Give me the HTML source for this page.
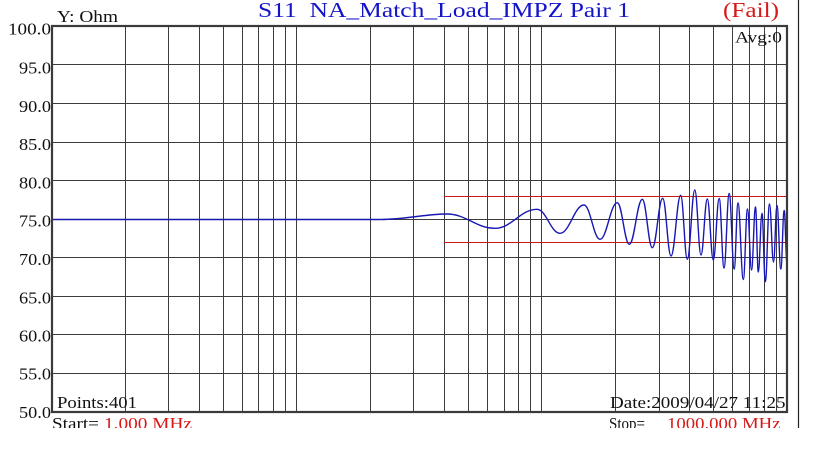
<!DOCTYPE html>
<html><head><meta charset="utf-8"><style>
html,body{margin:0;padding:0;background:#fff;width:815px;height:466px;overflow:hidden}
svg{display:block}
text{font-family:"Liberation Serif","DejaVu Serif",serif}
</style></head><body>
<svg width="815" height="466" viewBox="0 0 815 466" xmlns="http://www.w3.org/2000/svg">
<rect width="815" height="466" fill="#fff"/>
<!-- horizontal grid -->
<g stroke="#3c3c3c" stroke-width="1">
<line x1="52" y1="64.5" x2="787" y2="64.5"/>
<line x1="52" y1="103.5" x2="787" y2="103.5"/>
<line x1="52" y1="142.5" x2="787" y2="142.5"/>
<line x1="52" y1="180.5" x2="787" y2="180.5"/>
<line x1="52" y1="219.5" x2="787" y2="219.5"/>
<line x1="52" y1="257.5" x2="787" y2="257.5"/>
<line x1="52" y1="296.5" x2="787" y2="296.5"/>
<line x1="52" y1="334.5" x2="787" y2="334.5"/>
<line x1="52" y1="373.5" x2="787" y2="373.5"/>
</g>
<!-- vertical grid -->
<g stroke="#3c3c3c" stroke-width="1">
<line x1="125.5" y1="26" x2="125.5" y2="412"/>
<line x1="168.5" y1="26" x2="168.5" y2="412"/>
<line x1="199.5" y1="26" x2="199.5" y2="412"/>
<line x1="223.5" y1="26" x2="223.5" y2="412"/>
<line x1="242.5" y1="26" x2="242.5" y2="412"/>
<line x1="258.5" y1="26" x2="258.5" y2="412"/>
<line x1="273.5" y1="26" x2="273.5" y2="412"/>
<line x1="285.5" y1="26" x2="285.5" y2="412"/>
<line x1="296.5" y1="26" x2="296.5" y2="412"/>
<line x1="370.5" y1="26" x2="370.5" y2="412"/>
<line x1="413.5" y1="26" x2="413.5" y2="412"/>
<line x1="444.5" y1="26" x2="444.5" y2="412"/>
<line x1="468.5" y1="26" x2="468.5" y2="412"/>
<line x1="487.5" y1="26" x2="487.5" y2="412"/>
<line x1="504.5" y1="26" x2="504.5" y2="412"/>
<line x1="518.5" y1="26" x2="518.5" y2="412"/>
<line x1="530.5" y1="26" x2="530.5" y2="412"/>
<line x1="541.5" y1="26" x2="541.5" y2="412"/>
<line x1="615.5" y1="26" x2="615.5" y2="412"/>
<line x1="659.5" y1="26" x2="659.5" y2="412"/>
<line x1="689.5" y1="26" x2="689.5" y2="412"/>
<line x1="713.5" y1="26" x2="713.5" y2="412"/>
<line x1="732.5" y1="26" x2="732.5" y2="412"/>
<line x1="749.5" y1="26" x2="749.5" y2="412"/>
<line x1="764.5" y1="26" x2="764.5" y2="412"/>
<line x1="776.5" y1="26" x2="776.5" y2="412"/>
</g>
<!-- limit lines -->
<g stroke="#c81818" stroke-width="1">
<line x1="444" y1="196.5" x2="787" y2="196.5"/>
<line x1="444" y1="242.5" x2="787" y2="242.5"/>
</g>
<!-- trace -->
<path fill="none" stroke="#1818b4" stroke-width="1.4" stroke-linejoin="round" d="M52,219.5 L380,219.5 C405,219.5 425,214 447,214
C466.2,214 475.8,228.3 495,228.3
C511.8,228.3 520.2,209.3 537,209.3
C546.2,209.3 550.8,233.3 560,233.3
C569.6,233.3 574.4,205 584,205
C590.4,205 593.6,239.3 600,239.3
C606.9,239.3 610.4,202.7 617.3,202.7
C622.1,202.7 624.5,244.3 629.3,244.3
C634.5,244.3 637.1,199.3 642.3,199.3
C646.3,199.3 648.3,247.7 652.3,247.7
C656.5,247.7 658.5,198.3 662.7,198.3
C666,198.3 667.7,256 671,256
C674.9,256 676.8,195.3 680.7,195.3
C683.3,195.3 684.7,259.3 687.3,259.3
C690.3,259.3 691.8,190 694.8,190
C697.3,190 698.5,255 701,255
C703.5,255 704.8,199 707.3,199
C709.7,199 710.9,260 713.3,260
C715.7,260 716.8,198.5 719.2,198.5
C721.1,198.5 722.1,268 724,268
C726.1,268 727.1,193.5 729.2,193.5
C731.2,193.5 732.2,269 734.2,269
C735.7,269 736.5,203 738,203
C740.1,203 741.2,279.5 743.3,279.5
C745,279.5 745.8,209 747.5,209
C749.1,209 749.9,270 751.5,270
C753.1,270 753.9,207 755.5,207
C756.6,207 757.2,272 758.3,272
C759.8,272 760.5,213.3 762,213.3
C763.3,213.3 764,281.7 765.3,281.7
C767,281.7 767.8,204 769.5,204
C771.1,204 771.9,262 773.5,262
C774.9,262 775.6,205.5 777,205.5
C778.5,205.5 779.3,269 780.8,269
C782.2,269 782.8,210.5 784.2,210.5
C785.3,210.5 785.9,263 787,263"/>
<!-- frame -->
<rect x="52" y="26" width="735" height="386" fill="none" stroke="#3a3a3a" stroke-width="2.2"/>
<line x1="798.5" y1="0" x2="798.5" y2="428" stroke="#222" stroke-width="1.2"/>
<!-- title -->
<text x="258" y="17" font-size="21" fill="#1414c8" textLength="372" lengthAdjust="spacingAndGlyphs">S11&#160; NA_Match_Load_IMPZ Pair 1</text>
<text x="723" y="17" font-size="21" fill="#d81818" textLength="56" lengthAdjust="spacingAndGlyphs">(Fail)</text>
<text x="57" y="22" font-size="17" fill="#111" textLength="61" lengthAdjust="spacingAndGlyphs">Y: Ohm</text>
<text x="735" y="42.5" font-size="16" fill="#111" textLength="47" lengthAdjust="spacingAndGlyphs">Avg:0</text>
<!-- y labels -->
<g font-size="17" fill="#111" text-anchor="end">
<text x="51" y="34.5" textLength="43" lengthAdjust="spacingAndGlyphs">100.0</text>
<text x="51" y="73.5" textLength="32" lengthAdjust="spacingAndGlyphs">95.0</text>
<text x="51" y="111.8" textLength="32" lengthAdjust="spacingAndGlyphs">90.0</text>
<text x="51" y="150.1" textLength="32" lengthAdjust="spacingAndGlyphs">85.0</text>
<text x="51" y="188.4" textLength="32" lengthAdjust="spacingAndGlyphs">80.0</text>
<text x="51" y="226.7" textLength="32" lengthAdjust="spacingAndGlyphs">75.0</text>
<text x="51" y="265" textLength="32" lengthAdjust="spacingAndGlyphs">70.0</text>
<text x="51" y="303.3" textLength="32" lengthAdjust="spacingAndGlyphs">65.0</text>
<text x="51" y="341.6" textLength="32" lengthAdjust="spacingAndGlyphs">60.0</text>
<text x="51" y="379.7" textLength="32" lengthAdjust="spacingAndGlyphs">55.0</text>
<text x="51" y="418" textLength="32" lengthAdjust="spacingAndGlyphs">50.0</text>
</g>
<text x="57" y="408" font-size="17" fill="#111" textLength="80" lengthAdjust="spacingAndGlyphs">Points:401</text>
<text x="610" y="408" font-size="17" fill="#111" textLength="175.5" lengthAdjust="spacingAndGlyphs">Date:2009/04/27 11:25</text>
<!-- bottom (clipped) -->
<text x="52" y="429" font-size="17" fill="#111" textLength="47" lengthAdjust="spacingAndGlyphs">Start=</text>
<text x="104" y="429" font-size="17" fill="#d81818" textLength="88" lengthAdjust="spacingAndGlyphs">1.000 MHz</text>
<text x="609" y="429" font-size="17" fill="#111" textLength="36" lengthAdjust="spacingAndGlyphs">Stop=</text>
<text x="667" y="429" font-size="17" fill="#d81818" textLength="113.5" lengthAdjust="spacingAndGlyphs">1000.000 MHz</text>
<rect x="0" y="428" width="815" height="38" fill="#fff"/>
</svg>
</body></html>
